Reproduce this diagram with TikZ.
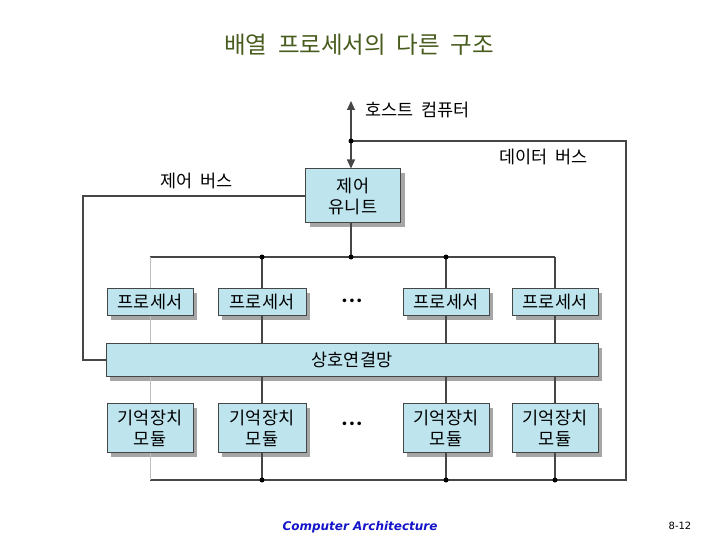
\documentclass[tikz,border=0pt]{standalone}
\usepackage{fontspec}
\setmainfont{Noto Sans CJK KR}
\newfontfamily\cjk{Noto Sans CJK KR}
\newfontfamily\footfont{DejaVu Sans}
\usetikzlibrary{arrows.meta,shadows}
\definecolor{boxfill}{RGB}{190,228,238}
\definecolor{boxline}{RGB}{70,70,70}
\definecolor{titlegreen}{RGB}{72,92,30}
\definecolor{footblue}{RGB}{20,20,200}
\newcommand{\wsp}{\hspace{0.45em}}
\tikzset{
  blk/.style={draw=boxline, line width=1pt, fill=boxfill, inner sep=0pt, align=center,
    font=\cjk\fontsize{17.5}{21}\selectfont,
    drop shadow={shadow xshift=4pt, shadow yshift=-4pt, fill=black!35, opacity=1}},
  bus/.style={draw=boxline, line width=1.2pt},
  gbus/.style={draw=black!25, line width=0.8pt},
  arr/.style={bus, -{Triangle[length=9pt,width=8pt]}},
  lbl/.style={font=\cjk\fontsize{17.5}{21}\selectfont, inner sep=0pt},
  jdot/.style={circle, fill=black, inner sep=0pt, minimum size=5pt},
  ellip/.style={font=\footfont\fontsize{12.5}{14}\selectfont, inner sep=0pt},
}
\begin{document}
\begin{tikzpicture}[x=1pt,y=-1pt]
\useasboundingbox (0,0) rectangle (720,540);
% title
\node[text=titlegreen, font=\cjk\fontsize{23.5}{26}\selectfont, inner sep=0pt] (title) at (359,45) {배열\wsp 프로세서의\wsp 다른\wsp 구조};
% boxes
\node[blk, minimum width=95pt, minimum height=54pt] (cu) at (353,196) {제어\\유니트};
\node[blk, minimum width=86pt, minimum height=27pt] (p1) at (150,302) {프로세서};
\node[blk, minimum width=88pt, minimum height=27pt] (p2) at (262,302) {프로세서};
\node[blk, minimum width=86pt, minimum height=27pt] (p3) at (446,302) {프로세서};
\node[blk, minimum width=86pt, minimum height=27pt] (p4) at (555,302) {프로세서};
\node[blk, minimum width=492pt, minimum height=33pt] (ic) at (352,360) {상호연결망};
\node[blk, minimum width=86pt, minimum height=49pt] (m1) at (150,428) {기억장치\\모듈};
\node[blk, minimum width=88pt, minimum height=49pt] (m2) at (262,428) {기억장치\\모듈};
\node[blk, minimum width=86pt, minimum height=49pt] (m3) at (446,428) {기억장치\\모듈};
\node[blk, minimum width=86pt, minimum height=49pt] (m4) at (555,428) {기억장치\\모듈};
\node[ellip] (dots1) at (352,302) {•••};
\node[ellip] (dots2) at (352,425) {•••};
% labels
\node[lbl, anchor=west] (host) at (365,110) {호스트\wsp 컴퓨터};
\node[lbl, anchor=west] (dbl) at (499,157) {데이터\wsp 버스};
\node[lbl, anchor=west] (cbl) at (160,181) {제어\wsp 버스};
% coordinates
\coordinate (hostTip) at (351,101);
\coordinate (dj) at (351,141);
\coordinate (dr1) at (626,141);
\coordinate (dr2) at (626,480);
\coordinate (db0) at (150,480);
\coordinate (cb1) at (83,196);
\coordinate (cb2) at (83,360);
\coordinate (tb0) at (150,257);
\coordinate (tb4) at (555,257);
\coordinate (tbc) at (351,257);
% host / data bus
\draw[arr] (dj) -- (hostTip);
\draw[arr] (dj) -- (cu.north -| dj);
\draw[bus] (dj) -- (dr1) -- (dr2) -- (db0);
% control bus
\draw[bus] (cu.west) -- (cb1) -- (cb2) -- (ic.west);
% top bus
\draw[bus] (cu.south -| tbc) -- (tbc);
\draw[bus] (tb0) -- (tb4);
% column 1 (gray)
\draw[gbus] (p1.north |- tb0) -- (p1.north);
\draw[gbus] (p1.south) -- (p1.south |- ic.north);
\draw[gbus] (ic.south -| m1.north) -- (m1.north);
\draw[gbus] (m1.south) -- (m1.south |- db0);
% other columns
\foreach \i in {2,3,4}{
  \draw[bus] (p\i.north |- tb0) -- (p\i.north);
  \draw[bus] (p\i.south) -- (p\i.south |- ic.north);
  \draw[bus] (ic.south -| m\i.north) -- (m\i.north);
  \draw[bus] (m\i.south) -- (m\i.south |- db0);
}
% junction dots
\node[jdot] (j0) at (dj) {};
\node[jdot] (j1) at (p2.north |- tb0) {};
\node[jdot] (j2) at (tbc) {};
\node[jdot] (j3) at (p3.north |- tb0) {};
\node[jdot] (j4) at (m2.south |- db0) {};
\node[jdot] (j5) at (m3.south |- db0) {};
\node[jdot] (j6) at (m4.south |- db0) {};
% footer
\node[text=footblue, font=\footfont\bfseries\itshape\fontsize{12}{14}\selectfont, inner sep=0pt] (foot) at (360,527) {Computer Architecture};
\node[font=\footfont\fontsize{10}{12}\selectfont, inner sep=0pt] (page) at (680,526) {8-12};
\end{tikzpicture}
\end{document}
